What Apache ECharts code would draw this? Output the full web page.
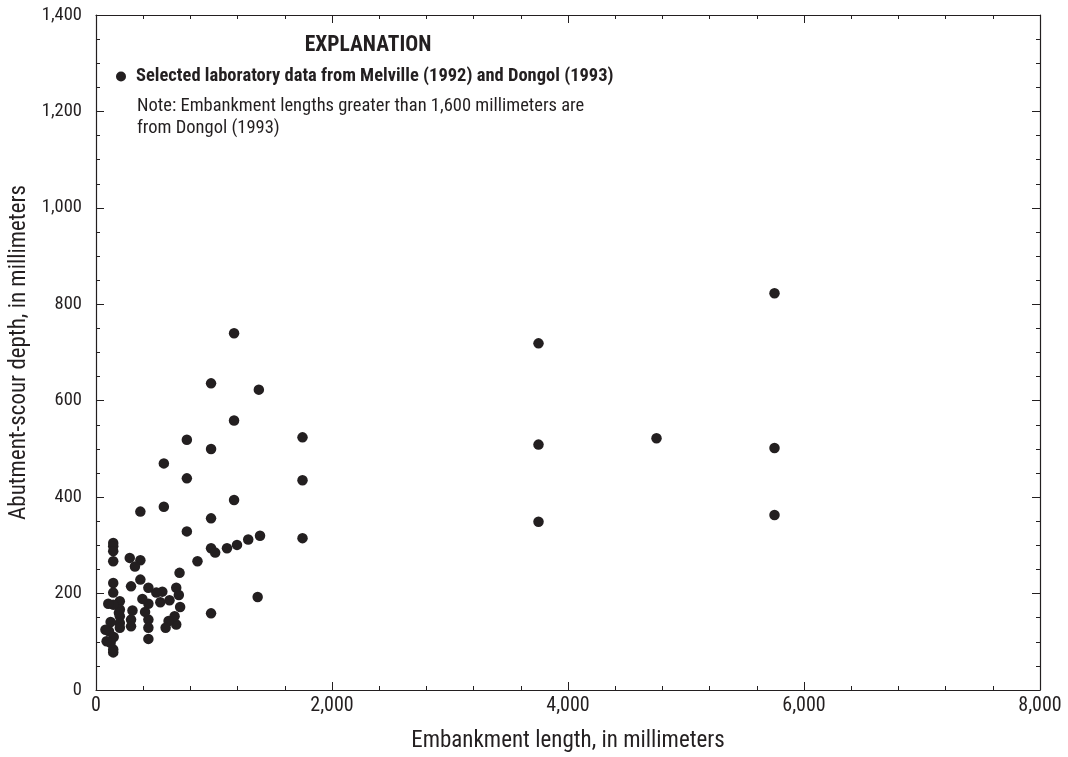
<!DOCTYPE html>
<html><head><meta charset="utf-8">
<script src="https://cdn.jsdelivr.net/npm/echarts@6/dist/echarts.min.js"></script>
<style>html,body{margin:0;padding:0;background:#fff}#c{width:1068px;height:757px}</style>
</head><body><div id="c"></div>
<script>
const seriesName = 'Selected laboratory data from Melville (1992) and Dongol (1993)';
const embankmentLength = [
 3750,3750,3750, 4750, 5750,5750,5750,
 1750,1750,1750, 1380,1390,1370, 1290,
 1170,1170,1170,1195, 1110,
 975,975,975,975,1010,975, 860,
 770,770,770,
 708,680,702,713,680, 666,623,615,590, 575,575, 562,545,511,
 444,444,444,444,444, 416,393, 376,376,376, 330,
 286,297,309,297,297,
 202,202,202,202,202,194,
 146,146,146,146,146,146,146,146,146,150,
 124,124, 104,110, 90,80
];
const scourDepth = [
 719,509,349, 522, 823,502,363,
 524,435,315, 623,320,193, 312,
 740,559,394,301, 294,
 636,500,356,294,285,159, 267,
 519,439,329,
 243,212,197,172,136, 153,186,143,129, 470,380, 204,182,202,
 212,179,146,129,106, 162,189, 370,269,229, 256,
 274,215,165,146,132,
 184,167,153,139,129,160,
 305,298,288,267,222,202,177,78,84,110,
 141,98, 179,122, 101,125
];
const xTicks = [0,2000,4000,6000,8000];
const yTicks = [0,200,400,600,800,1000,1200,1400];
const explanationTitle = 'EXPLANATION';
const noteLines = ['Note: Embankment lengths greater than 1,600 millimeters are','from Dongol (1993)'];
const xTitle = 'Embankment length, in millimeters';
const yTitle = 'Abutment-scour depth, in millimeters';

const FONT = '"Liberation Sans Narrow","Roboto Condensed","Liberation Sans",sans-serif';
const INK = '#231f20';
const fmt = v => v.toLocaleString('en-US');
const points = embankmentLength.map((x,i)=>[x, scourDepth[i]]);

const tickBase = {show:true, inside:true, length:8, lineStyle:{color:INK, width:1}};
const minorBase = (n)=>({show:true, splitNumber:n, length:4, lineStyle:{color:INK, width:1}});
const lineBase = {show:true, onZero:false, lineStyle:{color:INK, width:1.2}};

const chart = echarts.init(document.getElementById('c'), null, {renderer:'canvas'});
chart.setOption({
  backgroundColor:'#fff',
  animation:false,
  grid:{left:96, right:28, top:15, bottom:67, show:false, containLabel:false, outerBoundsMode:'none'},
  legend:{
    show:true, left:111, top:62, icon:'circle', itemWidth:10, itemHeight:10, itemGap:0,
    data:[seriesName],
    textStyle:{fontFamily:FONT, fontWeight:'bold', fontSize:18.5, color:INK, padding:[0,0,0,5]}
  },
  xAxis:[{
    type:'value', min:xTicks[0], max:xTicks[xTicks.length-1], interval:xTicks[1]-xTicks[0],
    position:'bottom',
    axisLine:lineBase, axisTick:tickBase, minorTick:minorBase(5), splitLine:{show:false},
    axisLabel:{fontFamily:FONT, fontSize:20, color:INK, margin:6, formatter:fmt},
    name:xTitle, nameLocation:'middle', nameGap:40,
    nameTextStyle:{fontFamily:FONT, fontSize:23, color:INK}
  },{
    type:'value', min:xTicks[0], max:xTicks[xTicks.length-1], interval:xTicks[1]-xTicks[0],
    position:'top',
    axisLine:lineBase, axisTick:tickBase, minorTick:minorBase(5), splitLine:{show:false},
    axisLabel:{show:false}
  }],
  yAxis:[{
    type:'value', min:yTicks[0], max:yTicks[yTicks.length-1], interval:yTicks[1]-yTicks[0],
    position:'left',
    axisLine:lineBase, axisTick:tickBase, minorTick:minorBase(4), splitLine:{show:false},
    axisLabel:{fontFamily:FONT, fontSize:18.5, color:INK, margin:14, formatter:fmt},
    name:yTitle, nameLocation:'middle', nameGap:64, nameRotate:90,
    nameTextStyle:{fontFamily:FONT, fontSize:23, color:INK}
  },{
    type:'value', min:yTicks[0], max:yTicks[yTicks.length-1], interval:yTicks[1]-yTicks[0],
    position:'right',
    axisLine:lineBase, axisTick:tickBase, minorTick:minorBase(4), splitLine:{show:false},
    axisLabel:{show:false}
  }],
  graphic:[
    {type:'text', x:368, y:46, style:{text:explanationTitle, fontFamily:FONT, fontWeight:'bold', fontSize:21.5, fill:INK, align:'center', verticalAlign:'middle'}},
    {type:'text', x:137, y:106, style:{text:noteLines[0], fontFamily:FONT, fontSize:18.5, fill:INK, align:'left', verticalAlign:'middle'}},
    {type:'text', x:137, y:128, style:{text:noteLines[1], fontFamily:FONT, fontSize:18.5, fill:INK, align:'left', verticalAlign:'middle'}}
  ],
  series:[{
    name:seriesName, type:'scatter', xAxisIndex:0, yAxisIndex:0,
    data:points, symbol:'circle', symbolSize:10.5,
    itemStyle:{color:INK, opacity:1}
  }]
});
</script>
</body></html>
